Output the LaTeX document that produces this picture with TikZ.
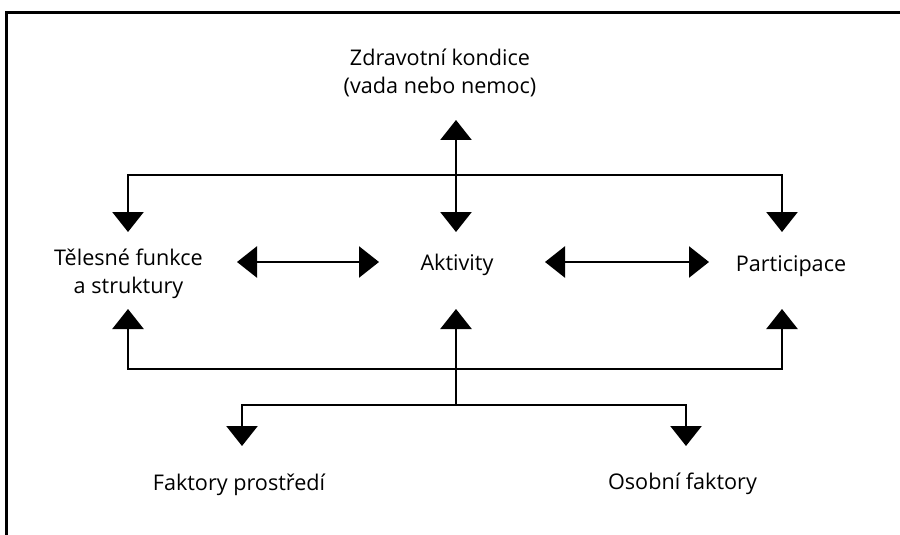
\documentclass[tikz,border=0pt]{standalone}
\usepackage{fontspec}
\setmainfont{Open Sans}
\usepackage{tikz}
\usepackage{xcolor}
\usetikzlibrary{arrows.meta,positioning}

\begin{document}
\begin{tikzpicture}
[x=0.5pt,y=-0.5pt,
      font=\fontsize{10.8}{13.75}\selectfont,
      lbl/.style={anchor=base,align=center,inner sep=0pt},
      arr/.style={line width=1.35pt,-{Triangle[length=10pt,width=15.5pt]}},
      biarr/.style={line width=1.35pt,{Triangle[length=10pt,width=15.5pt]}-{Triangle[length=10pt,width=15.5pt]}}]
 \useasboundingbox (0,0) rectangle (900,535);
 \draw[line width=1.5pt] (6.7,535) -- (6.7,12.3) -- (900,12.3);
 \node[lbl] (zdr) at (440,93.3) {Zdravotní kondice\\(vada nebo nemoc)};
 \node[lbl] (tel) at (128.5,293) {Tělesné funkce\\a struktury};
 \node[lbl] (akt) at (457,270.7) {Aktivity};
 \node[lbl] (par) at (791,271.7) {Participace};
 \node[lbl] (fak) at (239,490.7) {Faktory prostředí};
 \node[lbl] (oso) at (682.5,489.5) {Osobní faktory};
 \coordinate (zdrBot) at (456,120);
 \coordinate (topBus) at (456,175);
 \coordinate (telTop) at (128,232);
 \coordinate (aktTop) at (456,232);
 \coordinate (parTop) at (782,232);
 \coordinate (telBot) at (128,309);
 \coordinate (aktBot) at (456,309);
 \coordinate (parBot) at (782,309);
 \coordinate (midBus) at (456,369);
 \coordinate (lowBus) at (456,405);
 \coordinate (fakTop) at (242,446);
 \coordinate (osoTop) at (686,446);
 \draw[biarr] (zdrBot) -- (aktTop);
 \draw[arr] (topBus) -| (telTop);
 \draw[arr] (topBus) -| (parTop);
 \draw[biarr] (237,262) coordinate (telR) -- (379,262) coordinate (aktL);
 \draw[biarr] (545,262) coordinate (aktR) -- (709,262) coordinate (parL);
 \draw[arr] (lowBus) -- (aktBot);
 \draw[arr] (midBus) -| (telBot);
 \draw[arr] (midBus) -| (parBot);
 \draw[arr] (lowBus) -| (fakTop);
 \draw[arr] (lowBus) -| (osoTop);
\end{tikzpicture}
\end{document}
